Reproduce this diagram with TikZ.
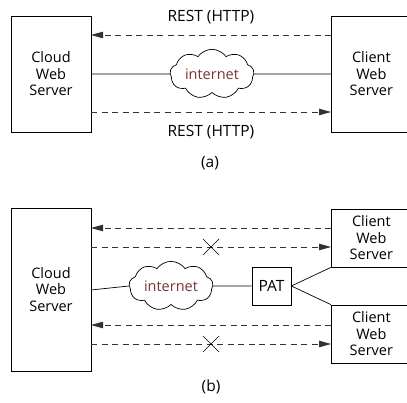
\documentclass[tikz,border=0pt]{standalone}
\usepackage{fontspec}
\setmainfont{Open Sans}
\usetikzlibrary{shapes.symbols,arrows.meta}
\definecolor{netred}{HTML}{7A3535}
\begin{document}
\begin{tikzpicture}[x=1pt,y=-1pt,
  box/.style={draw,line width=0.7pt,minimum width=80pt,align=center,font=\fontsize{14.5}{16.5}\selectfont,inner sep=0pt},
  cbox/.style={draw,line width=0.7pt,align=center,font=\fontsize{14.5}{16.5}\selectfont,inner sep=0pt},
  netcloud/.style={cloud,draw,line width=0.7pt,cloud puffs=9,cloud puff arc=110,aspect=2,inner sep=0pt,text=netred,font=\fontsize{14.5}{16}\selectfont},
  dashline/.style={dash pattern=on 6pt off 4.5pt,line width=0.9pt,draw=black!80},
  arrowtip/.style={-{Triangle[length=12pt,width=6.5pt]}},
  lbl/.style={font=\fontsize{15.5}{17}\selectfont}]
\useasboundingbox (0,0) rectangle (407,403);
% ---- (a)
\node[box,minimum height=116pt] (cws) at (51,74) {Cloud\\Web\\Server};
\node[cbox,minimum width=80pt,minimum height=116pt,anchor=west] (clws) at (331,74) {Client\\Web\\Server};
\node[netcloud,minimum width=84pt,minimum height=46pt] (net) at (212,74) {internet};
\coordinate (a1l) at (91,35); \coordinate (a1r) at (331,35);
\coordinate (a2l) at (91,112); \coordinate (a2r) at (331,112);
\draw[dashline,arrowtip] (a1r) -- (a1l);
\draw[dashline,arrowtip] (a2l) -- (a2r);
\draw[line width=0.7pt] (cws.east |- net) -- (net.west);
\draw[line width=0.7pt] (net.east) -- (clws.west |- net);
\node[lbl] (r1) at (211,17) {REST (HTTP)};
\node[lbl] (r2) at (211,132) {REST (HTTP)};
\node[lbl] (ca) at (210,163) {(a)};
% ---- (b)
\node[box,minimum height=163pt] (cwsb) at (51,289.5) {Cloud\\Web\\Server};
\node[cbox,minimum width=80pt,minimum height=58pt,anchor=west] (ct) at (331,238) {Client\\Web\\Server};
\node[cbox,minimum width=80pt,minimum height=58pt,anchor=west] (cb) at (331,334) {Client\\Web\\Server};
\node[netcloud,minimum width=84pt,minimum height=46pt] (netb) at (171,286) {internet};
\node[draw,line width=0.7pt,minimum width=39pt,minimum height=38pt,inner sep=0pt,lbl] (pat) at (271.5,286) {PAT};
\coordinate (s1) at (91,290);
\draw[line width=0.7pt] (s1) -- (netb.west);
\draw[line width=0.7pt] (netb.east) -- (pat.west);
\draw[line width=0.7pt] (ct.south west) -- (pat.east) -- (cb.north west);
\coordinate (b1l) at (91,228); \coordinate (b1r) at (331,228);
\coordinate (b2l) at (91,247); \coordinate (b2r) at (331,247);
\coordinate (b3l) at (91,325); \coordinate (b3r) at (331,325);
\coordinate (b4l) at (91,344); \coordinate (b4r) at (331,344);
\draw[dashline,arrowtip] (b1r) -- (b1l);
\draw[dashline,arrowtip] (b2l) -- (b2r);
\draw[dashline,arrowtip] (b3r) -- (b3l);
\draw[dashline,arrowtip] (b4l) -- (b4r);
\coordinate (x1) at (211,247); \coordinate (x2) at (211,344);
\foreach \c in {x1,x2} {
  \draw[line width=0.7pt] ([shift={(-8,-8)}]\c) -- ([shift={(8,8)}]\c);
  \draw[line width=0.7pt] ([shift={(-8,8)}]\c) -- ([shift={(8,-8)}]\c);
}
\node[lbl] (cbl) at (211,387) {(b)};
\end{tikzpicture}
\end{document}
